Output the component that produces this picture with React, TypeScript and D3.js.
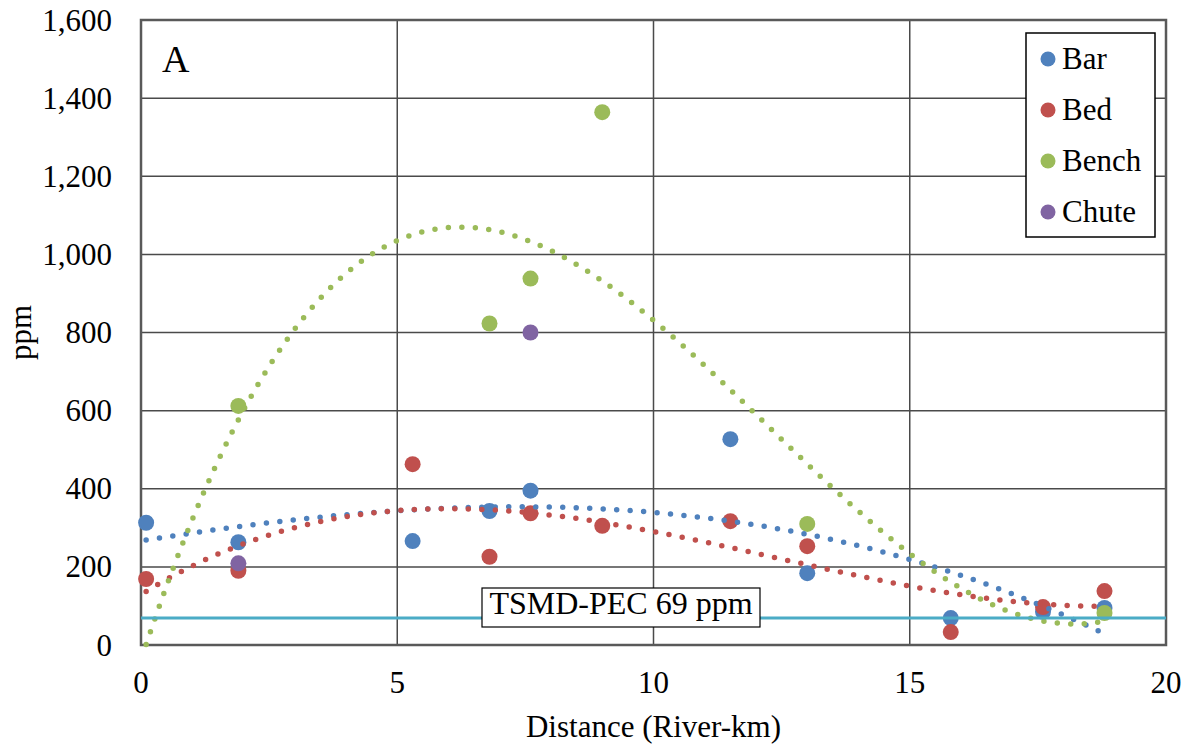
import React from "react";
import * as d3 from "d3";

const W = 1191;
const H = 746;
const M = { left: 141, right: 1166, top: 20, bottom: 645 };

const X_TICKS = [0, 5, 10, 15, 20];
const Y_TICKS = [0, 200, 400, 600, 800, 1000, 1200, 1400, 1600];

const BAR_X = [0.1, 1.9, 5.3, 6.8, 7.6, 11.5, 13, 15.8, 17.6, 18.8];
const BAR_Y = [313, 263, 266, 343, 395, 527, 184, 69, 85, 95];
const BED_X = [0.1, 1.9, 5.3, 6.8, 7.6, 9, 11.5, 13, 15.8, 17.6, 18.8];
const BED_Y = [169, 190, 463, 226, 337, 305, 317, 253, 33, 97, 138];
const BENCH_X = [1.9, 6.8, 7.6, 9, 13, 18.8];
const BENCH_Y = [612, 823, 938, 1364, 310, 82];
const CHUTE_X = [1.9, 7.6];
const CHUTE_Y = [209, 800];

const TREND_RANGE = [0.1, 18.8];
const TREND_ORDER = 3;
const PEC_VALUE = 69;
const PEC_LABEL = "TSMD-PEC 69 ppm";

const SERIES = [
  { name: "Bar", xs: BAR_X, ys: BAR_Y, color: "#4F81BD", trend: true },
  { name: "Bed", xs: BED_X, ys: BED_Y, color: "#C0504D", trend: true },
  { name: "Bench", xs: BENCH_X, ys: BENCH_Y, color: "#9BBB59", trend: true },
  { name: "Chute", xs: CHUTE_X, ys: CHUTE_Y, color: "#8064A2", trend: false },
];

function polyFit(xs: number[], ys: number[], order: number): number[] {
  const n = order + 1;
  const A: number[][] = Array.from({ length: n }, () => new Array(n + 1).fill(0));
  for (let k = 0; k < xs.length; k++) {
    for (let i = 0; i < n; i++) {
      for (let j = 0; j < n; j++) A[i][j] += Math.pow(xs[k], i + j);
      A[i][n] += ys[k] * Math.pow(xs[k], i);
    }
  }
  for (let c = 0; c < n; c++) {
    let p = c;
    for (let r = c + 1; r < n; r++) if (Math.abs(A[r][c]) > Math.abs(A[p][c])) p = r;
    [A[c], A[p]] = [A[p], A[c]];
    for (let r = 0; r < n; r++) {
      if (r === c) continue;
      const f = A[r][c] / A[c][c];
      for (let j = c; j <= n; j++) A[r][j] -= f * A[c][j];
    }
  }
  return A.map((row, i) => row[n] / row[i]);
}

const FONT = "'Liberation Serif', 'Times New Roman', serif";

export default function App() {
  const x = d3.scaleLinear().domain([0, 20]).range([M.left, M.right]);
  const y = d3.scaleLinear().domain([0, 1600]).range([M.bottom, M.top]);
  const line = d3
    .line<[number, number]>()
    .x((d) => x(d[0]))
    .y((d) => y(d[1]))
    .curve(d3.curveLinear);

  const trends = SERIES.filter((s) => s.trend).map((s) => {
    const c = polyFit(s.xs, s.ys, TREND_ORDER);
    const pts: [number, number][] = d3
      .range(TREND_RANGE[0], TREND_RANGE[1] + 1e-9, 0.05)
      .map((t) => [t, c.reduce((acc, ci, i) => acc + ci * Math.pow(t, i), 0)]);
    return { color: s.color, d: line(pts) || "" };
  });

  return (
    <svg width={W} height={H} style={{ display: "block", position: "absolute", left: 0, top: 0, background: "#fff" }}>
      <rect x={0} y={0} width={W} height={H} fill="#fff" />
      {/* gridlines */}
      {Y_TICKS.filter((t) => t > 0 && t < 1600).map((t) => (
        <line key={"gy" + t} x1={M.left} x2={M.right} y1={y(t)} y2={y(t)} stroke="#4a4a4a" strokeWidth={1.5} />
      ))}
      {X_TICKS.filter((t) => t > 0 && t < 20).map((t) => (
        <line key={"gx" + t} x1={x(t)} x2={x(t)} y1={M.top} y2={M.bottom} stroke="#4a4a4a" strokeWidth={1.5} />
      ))}
      <rect x={M.left} y={M.top} width={M.right - M.left} height={M.bottom - M.top} fill="none" stroke="#595959" strokeWidth={2.5} />

      {/* tick labels */}
      {Y_TICKS.map((t) => (
        <text key={"yl" + t} x={112} y={y(t)} dy="0.34em" textAnchor="end" fontFamily={FONT} fontSize={31} fill="#000">
          {d3.format(",")(t)}
        </text>
      ))}
      {X_TICKS.map((t) => (
        <text key={"xl" + t} x={x(t)} y={693} textAnchor="middle" fontFamily={FONT} fontSize={31} fill="#000">
          {t}
        </text>
      ))}
      <text x={(M.left + M.right) / 2} y={737} textAnchor="middle" fontFamily={FONT} fontSize={31} fill="#000">
        Distance (River-km)
      </text>
      <text transform={`translate(31,${(M.top + M.bottom) / 2}) rotate(-90)`} textAnchor="middle" fontFamily={FONT} fontSize={31} fill="#000">
        ppm
      </text>
      <text x={162} y={72} fontFamily={FONT} fontSize={38} fill="#000">A</text>

      {/* markers */}
      {SERIES.map((s) =>
        s.xs.map((xv, i) => (
          <circle key={s.name + i} cx={x(xv)} cy={y(s.ys[i])} r={8} fill={s.color} />
        ))
      )}

      {/* trendlines */}
      {trends.map((t, i) => (
        <path key={"tr" + i} d={t.d} fill="none" stroke={t.color} strokeWidth={5.5} strokeLinecap="round" strokeDasharray="0 13.5" />
      ))}

      {/* PEC line */}
      <line x1={M.left} x2={M.right} y1={y(PEC_VALUE)} y2={y(PEC_VALUE)} stroke="#4BACC6" strokeWidth={3} />
      <rect x={482} y={588} width={278} height={39} fill="#fff" stroke="#000" strokeWidth={1.2} />
      <text x={621} y={614} textAnchor="middle" fontFamily={FONT} fontSize={32} fill="#000">
        {PEC_LABEL}
      </text>

      {/* legend */}
      <rect x={1026} y={33} width={129} height={204} fill="#fff" stroke="#000" strokeWidth={1.5} />
      {SERIES.map((s, i) => (
        <g key={"lg" + s.name} transform={`translate(1048,${59 + i * 51})`}>
          <circle cx={0} cy={0} r={7.5} fill={s.color} />
          <text x={14} y={0} dy="0.33em" fontFamily={FONT} fontSize={31} fill="#000">
            {s.name}
          </text>
        </g>
      ))}
    </svg>
  );
}
